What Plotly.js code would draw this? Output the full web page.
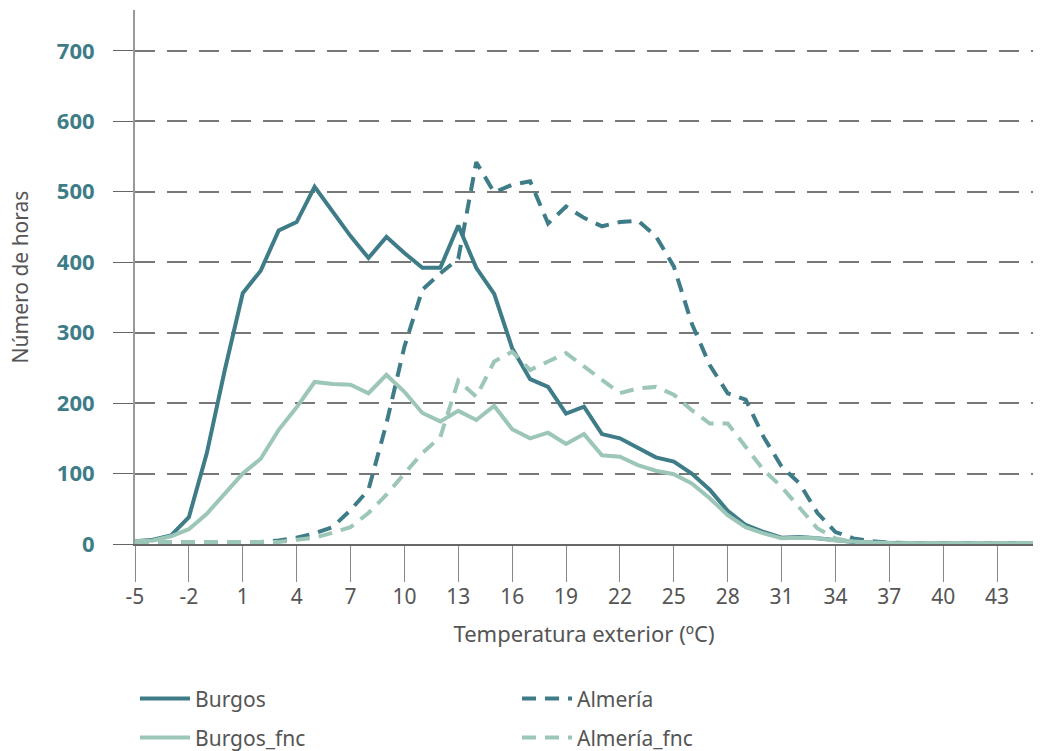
<!DOCTYPE html>
<html>
<head>
<meta charset="utf-8">
<script src="https://cdn.plot.ly/plotly-3.0.1.min.js"></script>
<style>
  html, body { margin: 0; padding: 0; background: #fff; }
  #chart { width: 1044px; height: 751px; }
</style>
</head>
<body>
<div id="chart"></div>
<script>
// temperatura exterior (ºC), -5 .. 45
const temps = [];
for (let t = -5; t <= 45; t++) temps.push(t);

const burgos = [4, 6, 12, 38, 129, 247, 356, 388, 445, 457, 507, 473, 437, 406, 436, 413, 392, 392, 452, 392,
  355, 278, 234, 223, 185, 195, 156, 150, 136, 123, 117, 100, 77, 47, 27, 17, 9, 10, 8, 5,
  3, 2, 1, 1, 1, 1, 1, 1, 1, 1, 1];
const burgosFnc = [4, 5, 11, 21, 43, 72, 100, 121, 162, 194, 230, 227, 226, 214, 240, 216, 186, 174, 189, 176,
  196, 163, 150, 158, 142, 156, 126, 124, 112, 104, 99, 86, 65, 41, 24, 15, 8, 9, 8, 5,
  3, 2, 1, 1, 1, 1, 1, 1, 1, 1, 1];
const almeria = [2, 2, 2, 2, 2, 2, 2, 3, 5, 9, 15, 24, 48, 77, 171, 280, 361, 384, 405, 542,
  499, 510, 515, 455, 479, 463, 451, 457, 459, 437, 394, 313, 254, 214, 205, 152, 110, 86, 44, 17,
  8, 4, 2, 1, 1, 1, 1, 1, 1, 1, 1];
const almeriaFnc = [3, 3, 3, 3, 3, 3, 3, 3, 3, 6, 9, 16, 24, 44, 70, 100, 129, 152, 232, 209,
  259, 273, 247, 259, 271, 252, 233, 214, 221, 223, 212, 190, 171, 171, 138, 105, 81, 51, 22, 8,
  3, 2, 1, 1, 1, 1, 1, 1, 1, 1, 1];
const xTicks = [-5, -2, 1, 4, 7, 10, 13, 16, 19, 22, 25, 28, 31, 34, 37, 40, 43];
const xTickText = ['-5', '-2', '1', '4', '7', '10', '13', '16', '19', '22', '25', '28', '31', '34', '37', '40', '43'];
const yTicks = [0, 100, 200, 300, 400, 500, 600, 700];

const dark = '#3e7c88';
const light = '#9cc6b8';
const dashPat = '14px,9px';

// first row of the legend: Burgos, Almería; second row: the _fnc series
const traces = [
  { name: 'Burgos', y: burgos, line: { color: dark, width: 4 }, legend: 'legend' },
  { name: 'Almería', y: almeria, line: { color: dark, width: 4, dash: dashPat }, legend: 'legend' },
  { name: 'Burgos_fnc', y: burgosFnc, line: { color: light, width: 4 }, legend: 'legend2' },
  { name: 'Almería_fnc', y: almeriaFnc, line: { color: light, width: 4, dash: dashPat }, legend: 'legend2' }
].map(tr => Object.assign({ x: temps, type: 'scatter', mode: 'lines' }, tr));

const font = 'Noto Sans, Roboto, sans-serif';
const legendBase = {
  orientation: 'h',
  x: 0.0, xanchor: 'left',
  yanchor: 'middle',
  itemwidth: 50,
  entrywidth: 317,
  traceorder: 'normal',
  font: { size: 21, color: '#555' },
  bgcolor: 'rgba(0,0,0,0)'
};

Plotly.newPlot('chart', traces, {
  width: 1044,
  height: 751,
  margin: { l: 135, r: 11, t: 10, b: 207, autoexpand: false },
  paper_bgcolor: '#fff',
  plot_bgcolor: '#fff',
  font: { family: font, color: '#555', size: 20 },
  showlegend: true,
  legend: Object.assign({ y: -0.29 }, legendBase),
  legend2: Object.assign({ y: -0.363 }, legendBase),
  xaxis: {
    range: [-5, 45],
    tickvals: xTicks,
    ticktext: xTickText,
    ticks: 'outside',
    ticklen: 36,
    tickcolor: '#888',
    ticklabelstandoff: -3,
    showgrid: false,
    zeroline: false,
    showline: true,
    linecolor: '#666',
    linewidth: 2,
    automargin: false,
    tickfont: { size: 21, color: '#555' },
    title: { text: 'Temperatura exterior (ºC)', font: { size: 22, color: '#555' }, standoff: 17 }
  },
  yaxis: {
    range: [0, 758],
    tickvals: yTicks,
    ticks: 'outside',
    ticklen: 20,
    tickcolor: '#666',
    ticklabelstandoff: 14,
    showgrid: true,
    gridcolor: '#777',
    griddash: '20px,12px',
    gridwidth: 1.5,
    zeroline: false,
    showline: true,
    linecolor: '#999',
    linewidth: 2,
    automargin: false,
    tickfont: { size: 22, color: dark, weight: 'bold' },
    title: { text: 'Número de horas', font: { size: 21, color: '#555' }, standoff: 22 }
  }
}, { displayModeBar: false });
</script>
</body>
</html>
